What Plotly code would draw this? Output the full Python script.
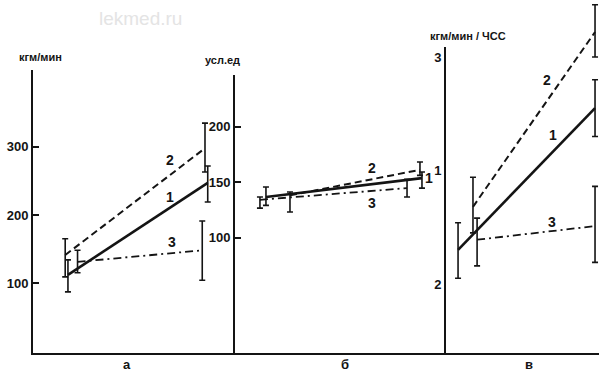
import plotly.graph_objects as go

W, H = 600, 380

# ---------------- data ----------------
# panel "а" (кгм/мин)
a_x1 = [0.0, 1.02];   a_y1 = [112, 247];   a_hi1 = [134, 272];   a_lo1 = [87, 219]
a_x2 = [-0.02, 1.0];  a_y2 = [141, 298];   a_hi2 = [165, 335];   a_lo2 = [109, 263]
a_x3 = [0.07, 0.98];  a_y3 = [131, 148];   a_hi3 = [148, 191];   a_lo3 = [115, 104]

# panel "б" (усл.ед)
b_x1 = [0.0, 1.013];   b_y1 = [136.5, 153.5]; b_hi1 = [145.5, 159]; b_lo1 = [129, 144.5]
b_x2 = [0.156, 1.0];   b_y2 = [138, 161];     b_hi2 = [141, 168];   b_lo2 = [123, 156]
b_x3 = [-0.039, 0.916]; b_y3 = [134, 144.5];  b_hi3 = [136.5, 152.5]; b_lo3 = [126.5, 136.5]

# panel "в" (кгм/мин / ЧСС)
c_x1 = [0.0, 1.0];    c_y1 = [2.15, 2.775];  c_hi1 = [2.27, 2.90];  c_lo1 = [2.025, 2.65]
c_x2 = [0.109, 1.0];  c_y2 = [2.34, 3.11];   c_hi2 = [2.47, 3.23];  c_lo2 = [2.225, 3.0]
c_x3 = [0.139, 1.0];  c_y3 = [2.195, 2.255]; c_hi3 = [2.29, 2.43];  c_lo3 = [2.08, 2.095]

a_ticks = [100, 200, 300];  a_ticktext = ["100", "200", "300"]
b_ticks = [100, 150, 200];  b_ticktext = ["100", "150", "200"]
c_ticks = [2.0, 2.5, 3.0];  c_ticktext = ["2", "1", "3"]

series_names = ["1", "2", "3"]
panel_letters = ["а", "б", "в"]
axis_titles = ["кгм/мин", "усл.ед", "кгм/мин / ЧСС"]

# series label positions (data coords)
a_lab = [(0.745, 226), (0.745, 281), (0.76, 160)]
b_lab = [(1.058, 153.6), (0.688, 163), (0.688, 131)]
c_lab = [(0.693, 2.656), (0.65, 2.899), (0.686, 2.273)]

# ---------------- style ----------------
INK = "#141414"
FONT = "Liberation Sans, Arial, sans-serif"
styles = [
    dict(width=2.6, dash="solid"),
    dict(width=2.0, dash="7px,4px"),
    dict(width=1.8, dash="8px,4px,2px,4px"),
]

fig = go.Figure()

def add_series(xs, ys, his, los, style, xa, ya):
    fig.add_trace(go.Scatter(
        x=xs, y=ys, mode="lines", xaxis=xa, yaxis=ya,
        line=dict(color=INK, **style), showlegend=False, hoverinfo="skip",
        error_y=dict(type="data", symmetric=False,
                     array=[h - y for h, y in zip(his, ys)],
                     arrayminus=[y - l for y, l in zip(ys, los)],
                     color=INK, thickness=1.6, width=3),
    ))

panels = [
    ("x", "y", [(a_x1, a_y1, a_hi1, a_lo1), (a_x2, a_y2, a_hi2, a_lo2), (a_x3, a_y3, a_hi3, a_lo3)], a_lab),
    ("x2", "y2", [(b_x1, b_y1, b_hi1, b_lo1), (b_x2, b_y2, b_hi2, b_lo2), (b_x3, b_y3, b_hi3, b_lo3)], b_lab),
    ("x3", "y4", [(c_x1, c_y1, c_hi1, c_lo1), (c_x2, c_y2, c_hi2, c_lo2), (c_x3, c_y3, c_hi3, c_lo3)], c_lab),
]

annotations = []
for xa, ya, series, labs in panels:
    for i, (xs, ys, his, los) in enumerate(series):
        add_series(xs, ys, his, los, styles[i], xa, ya)
        annotations.append(dict(x=labs[i][0], y=labs[i][1], xref=xa, yref=ya,
                                text=series_names[i], showarrow=False,
                                xanchor="center", yanchor="middle",
                                font=dict(size=14, color=INK, family=FONT, weight="bold")))

# empty trace so that the visible axis of panel "в" is drawn
fig.add_trace(go.Scatter(x=[None], y=[None], xaxis="x3", yaxis="y3", mode="lines",
                         showlegend=False, hoverinfo="skip"))

def px_x(p):
    return p / W

def px_y(p):
    return 1 - p / H

y0 = px_y(353)

xcommon = dict(showline=True, linewidth=2, linecolor=INK, showticklabels=False,
               ticks="", showgrid=False, zeroline=False, fixedrange=True)
ycommon = dict(showline=True, linewidth=2, linecolor=INK, ticks="inside", ticklen=6,
               tickwidth=2, tickcolor=INK, showgrid=False, zeroline=False, fixedrange=True,
               tickfont=dict(size=13, color=INK, family=FONT, weight="bold"))

fig.update_layout(
    width=W, height=H, autosize=False,
    margin=dict(l=0, r=0, t=0, b=0),
    paper_bgcolor="white", plot_bgcolor="white",
    xaxis=dict(domain=[px_x(33), px_x(235)], range=[-0.255, 1.219], anchor="y", **xcommon),
    yaxis=dict(domain=[y0, px_y(70)], range=[-2.9, 413], anchor="x",
               tickvals=a_ticks, ticktext=a_ticktext, **ycommon),
    xaxis2=dict(domain=[px_x(235), px_x(446)], range=[-0.201, 1.169], anchor="y2", **xcommon),
    yaxis2=dict(domain=[y0, px_y(75)], range=[-4, 246.4], anchor="x2",
                tickvals=b_ticks, ticktext=b_ticktext, **ycommon),
    xaxis3=dict(domain=[px_x(446), px_x(599)], range=[-0.088, 1.029], anchor="y3", **xcommon),
    yaxis3=dict(domain=[y0, px_y(47)], range=[1.696, 3.044], anchor="x3",
                tickvals=c_ticks, ticktext=c_ticktext, **ycommon),
    # same scale as yaxis3, taller plot area so the top whisker is not clipped
    yaxis4=dict(domain=[y0, 1.0], range=[1.696, 3.251], anchor="x3", visible=False,
                showgrid=False, zeroline=False, fixedrange=True),
)

# panel letters under the axes
for xa, frac, letter in [("x", 0.465, panel_letters[0]), ("x2", 0.52, panel_letters[1]),
                         ("x3", 0.54, panel_letters[2])]:
    annotations.append(dict(x=frac, y=px_y(364), xref=xa + " domain", yref="paper",
                            text=letter, showarrow=False, xanchor="center", yanchor="middle",
                            font=dict(size=13, color=INK, family=FONT, weight="bold")))

# axis titles
for (cx, cy), t in zip([(40, 57), (222, 60), (468, 36)], axis_titles):
    annotations.append(dict(x=px_x(cx), y=px_y(cy), xref="paper", yref="paper",
                            text=t, showarrow=False, xanchor="center", yanchor="middle",
                            font=dict(size=11, color=INK, family=FONT, weight="bold")))

# watermark
annotations.append(dict(x=px_x(140), y=px_y(18), xref="paper", yref="paper",
                        text="lekmed.ru", showarrow=False, xanchor="center", yanchor="middle",
                        font=dict(size=19, color="#e4e4e4", family=FONT)))

fig.update_layout(annotations=annotations)
fig.write_html("out.html", config={"displayModeBar": False, "staticPlot": True},
               post_script="document.body.style.margin='0';document.body.style.padding='0';")
